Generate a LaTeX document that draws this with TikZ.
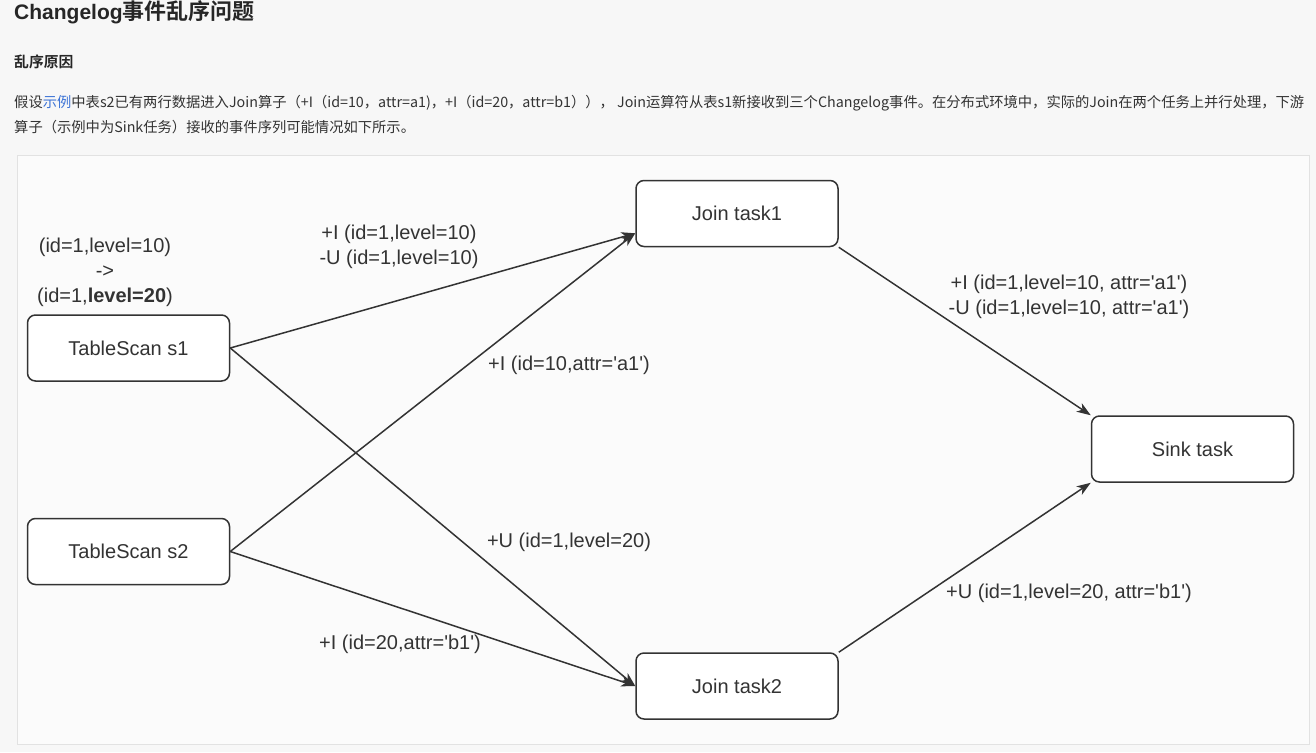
\documentclass[tikz,border=0pt]{standalone}
\usepackage{fontspec}
\setmainfont{Liberation Sans}
\newfontfamily\cjk{Noto Sans CJK SC}[BoldFont={* Bold}]
\usetikzlibrary{arrows.meta,positioning}

\definecolor{pagebg}{RGB}{247,247,247}
\definecolor{framebg}{RGB}{251,251,251}
\definecolor{frameline}{RGB}{226,226,226}
\definecolor{ink}{RGB}{51,51,51}
\definecolor{linkblue}{RGB}{62,116,214}

\begin{document}
\begin{tikzpicture}[x=1pt,y=-1pt,font=\fontsize{20}{25}\selectfont,text=ink,
    line/.style={draw=ink, -{Stealth[length=14pt,width=10pt,inset=4pt]}, line width=1.5pt},
    task/.style={draw=ink, line width=1.5pt, rounded corners=8pt, fill=white,
                 minimum width=202pt, minimum height=66pt, inner sep=0pt},
    event/.style={align=center, inner sep=0pt},
    ]
    \useasboundingbox (0,0) rectangle (1316,752);
    \fill [pagebg] (0,0) rectangle (1316,752);
    \draw [frameline, fill=framebg, line width=1pt] (17,155) rectangle (1309,744);

    % Page text
    \node [anchor=base west, inner sep=0pt, text=black!85] (title) at (14,20)
      {\fontsize{21}{26}\selectfont\bfseries Changelog{\cjk\fontsize{22}{26}\selectfont\bfseries 事件乱序问题}};
    \node [anchor=west, inner sep=0pt, text=black!85] (cause) at (14,62)
      {\cjk\fontsize{14.8}{18}\selectfont\bfseries 乱序原因};
    \node [anchor=west, inner sep=0pt] (para1) at (14,103.5)
      {\cjk\fontsize{14.3}{18}\selectfont 假设{\color{linkblue}示例}中表s2已有两行数据进入Join算子（+I（id=10，attr=a1)，+I（id=20，attr=b1））， Join运算符从表s1新接收到三个Changelog事件。在分布式环境中，实际的Join在两个任务上并行处理，下游};
    \node [anchor=west, inner sep=0pt] (para2) at (14,127)
      {\cjk\fontsize{14.3}{18}\selectfont 算子（示例中为Sink任务）接收的事件序列可能情况如下所示。};

    % Place nodes
    \node [task] (s1) at (128.5,348) {TableScan s1};
    \node [task, below=136pt of s1] (s2) {TableScan s2};
    \node [task, above right=67pt and 405pt of s1] (j1) {Join task1};
    \node [task, below right=67pt and 405pt of s2] (j2) {Join task2};
    \node [task, below right=168pt and 252pt of j1] (sink) {Sink task};

    % Draw edges
    \path [line] (s1.east) -- (j1.191);
    \path [line] (s2.east) -- (j1.191);
    \path [line] (s1.east) -- (j2.west);
    \path [line] (s2.east) -- (j2.west);
    \path [line] (j1.south east) -- (sink.north west);
    \path [line] (j2.north east) -- (sink.south west);

    % Events
    \node [event] (upd) at (105,272) {(id=1,level=10)\\->\\(id=1,\textbf{level=20})};
    \node [event] (ev1) at (399,246.5) {+I (id=1,level=10)\\-U (id=1,level=10)};
    \node [event] (ev2) at (569,365) {+I (id=10,attr=\textquotesingle a1\textquotesingle)};
    \node [event] (ev3) at (569,542) {+U (id=1,level=20)};
    \node [event] (ev4) at (400,644) {+I (id=20,attr=\textquotesingle b1\textquotesingle)};
    \node [event] (ev5) at (1069,297) {+I (id=1,level=10, attr=\textquotesingle a1\textquotesingle)\\-U (id=1,level=10, attr=\textquotesingle a1\textquotesingle)};
    \node [event] (ev6) at (1069,593) {+U (id=1,level=20, attr=\textquotesingle b1\textquotesingle)};
  \end{tikzpicture}
\end{document}
